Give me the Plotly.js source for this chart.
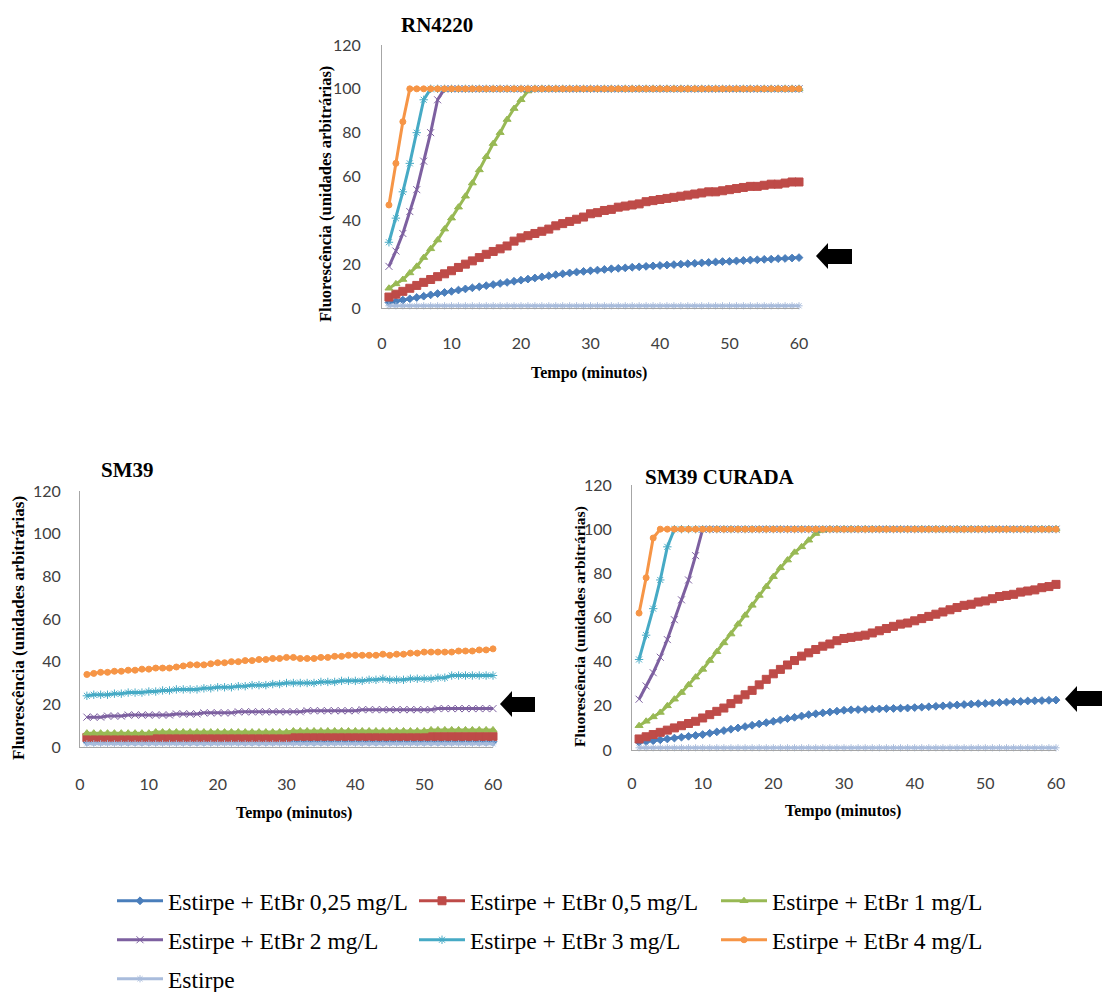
<!DOCTYPE html>
<html>
<head>
<meta charset="utf-8">
<script src="https://cdn.plot.ly/plotly-3.0.1.min.js"></script>
<style>html,body{margin:0;padding:0;background:#fff;}#chart{width:1102px;height:992px;}</style>
</head>
<body>
<div id="chart"></div>
<script>
// ---------- DATA ----------
const minutes = [1,2,3,4,5,6,7,8,9,10,11,12,13,14,15,16,17,18,19,20,21,22,23,24,25,26,27,28,29,30,
                 31,32,33,34,35,36,37,38,39,40,41,42,43,44,45,46,47,48,49,50,51,52,53,54,55,56,57,58,59,60];

const seriesNames = ["Estirpe + EtBr 0,25 mg/L","Estirpe + EtBr 0,5 mg/L","Estirpe + EtBr 1 mg/L",
                     "Estirpe + EtBr 2 mg/L","Estirpe + EtBr 3 mg/L","Estirpe + EtBr 4 mg/L","Estirpe"];

const chartTitles = ["RN4220","SM39","SM39 CURADA"];
const xTitle = "Tempo (minutos)";
const yTitle = "Fluorescência (unidades arbitrárias)";

// RN4220
const rnBlue = [2.5,3,3.6,4.2,4.8,5.4,6,6.6,7.1,7.6,8.2,8.7,9.2,9.7,10.2,10.7,11.2,11.7,12.2,12.7,
  13.2,13.7,14.2,14.7,15.2,15.6,16,16.4,16.7,17,17.3,17.6,17.9,18.1,18.3,18.6,18.8,19,19.2,19.4,
  19.6,19.8,20,20.2,20.4,20.6,20.8,21,21.2,21.3,21.5,21.7,21.9,22,22.2,22.3,22.5,22.6,22.8,23];
const rnRed = [5,6.3,7.6,9,10.3,11.7,13,14.3,15.6,17,18.5,20,21.5,23,24.5,25.8,27,28.3,30.5,32,
  33,34,35,36,37.5,38.5,39.5,40.5,41.5,43,43.5,44.5,45,46,46.5,47,47.5,48.5,49,49.5,
  50,50.5,51,51.5,52,52.5,53,53,53.5,54,54.5,55,55.5,55.5,56,56.5,56.5,57,57.5,57.5];
const rnGreen = [9,11,13,16,19,23,27,31,36,41,46,51,57,63,69,75,80,86,91,95,
  99,100,100,100,100,100,100,100,100,100,100,100,100,100,100,100,100,100,100,100,
  100,100,100,100,100,100,100,100,100,100,100,100,100,100,100,100,100,100,100,100];
const rnPurple = [19,26,34,44,54,67,80,95,100,100,100,100,100,100,100,100,100,100,100,100,
  100,100,100,100,100,100,100,100,100,100,100,100,100,100,100,100,100,100,100,100,
  100,100,100,100,100,100,100,100,100,100,100,100,100,100,100,100,100,100,100,100];
const rnTeal = [30,41,53,66,80,95,100,100,100,100,100,100,100,100,100,100,100,100,100,100,
  100,100,100,100,100,100,100,100,100,100,100,100,100,100,100,100,100,100,100,100,
  100,100,100,100,100,100,100,100,100,100,100,100,100,100,100,100,100,100,100,100];
const rnOrange = [47,66,85,100,100,100,100,100,100,100,100,100,100,100,100,100,100,100,100,100,
  100,100,100,100,100,100,100,100,100,100,100,100,100,100,100,100,100,100,100,100,
  100,100,100,100,100,100,100,100,100,100,100,100,100,100,100,100,100,100,100,100];
const rnEstirpe = [1,1,1,1,1,1,1,1,1,1,1,1,1,1,1,1,1,1,1,1,1,1,1,1,1,1,1,1,1,1,
  1,1,1,1,1,1,1,1,1,1,1,1,1,1,1,1,1,1,1,1,1,1,1,1,1,1,1,1,1,1];

// SM39
const smBlue = [2.5,2.5,2.5,2.5,2.5,2.5,2.5,2.5,2.5,2.5,2.5,2.5,2.5,2.5,2.5,2.5,2.5,2.5,2.5,2.5,
  2.5,2.5,2.5,2.5,2.5,2.5,2.5,2.5,2.5,2.5,2.5,2.5,2.5,2.5,2.5,2.5,2.5,2.5,2.5,2.5,
  2.5,2.5,2.5,2.5,2.5,2.5,2.5,2.5,2.5,2.5,2.5,2.5,2.5,2.5,2.5,2.5,2.5,2.5,2.5,2.5];
const smRed = [4.5,4.5,4.5,4.5,4.5,4.5,4.5,4.5,4.5,4.5,4.5,4.5,4.5,4.5,4.5,4.5,4.5,4.5,4.5,4.5,
  4.5,4.5,4.5,4.5,4.5,4.5,4.5,4.5,4.5,4.5,5,5,5,5,5,5,5,5,5,5,
  5,5,5,5,5,5,5,5,5,5,5,5,5,5,5,5,5,5,5,5];
const smGreen = [6.5,6.5,6.5,6.5,6.5,6.5,6.5,6.5,6.5,6.5,7,7,7,7,7,7,7,7,7,7,
  7,7,7,7,7,7,7,7,7,7,7.5,7.5,7.5,7.5,7.5,7.5,7.5,7.5,7.5,7.5,
  7.5,7.5,7.5,7.5,7.5,7.5,7.5,7.5,7.5,7.5,8,8,8,8,8,8,8,8,8,8];
const smPurple = [14,14,14,14.5,14.5,14.5,15,15,15,15,15,15,15,15.5,15.5,15.5,15.5,16,16,16,
  16,16,16.5,16.5,16.5,16.5,16.5,16.5,16.5,16.5,16.5,16.5,17,17,17,17,17,17,17,17,
  17.5,17.5,17.5,17.5,17.5,17.5,17.5,17.5,17.5,17.5,17.5,18,18,18,18,18,18,18,18,18];
const smTeal = [24,24.5,24.5,24.5,25,25,25.5,25.5,25.5,26,26,26.5,26.5,27,27,27,27,27.5,27.5,28,
  28,28,28.5,28.5,29,29,29,29.5,29.5,30,30,30,30,30,30.5,30.5,30.5,31,31,31,
  31,31.5,31.5,32,31.5,31.5,31.5,32,32,32,32,32.5,32.5,33.5,33.5,33.5,33.5,33.5,33.5,33.5];
const smOrange = [34,34.5,35,35,35.5,35.5,36,36,36.5,36.5,37,37,37,37.5,38,38.5,38.5,38.5,39,39.5,
  39.5,40,40,40.5,40.5,41,41,41.5,41.5,42,42,41.5,41.5,41.5,42,42,42.5,42.5,43,43,
  43,43,43,43.5,43,43.5,43.5,44,44,44.5,44.5,44.5,44.5,44.5,45,45,45,45.5,45.5,46];
const smEstirpe = [1.5,1.5,1.5,1.5,1.5,1.5,1.5,1.5,1.5,1.5,1.5,1.5,1.5,1.5,1.5,1.5,1.5,1.5,1.5,1.5,
  1.5,1.5,1.5,1.5,1.5,1.5,1.5,1.5,1.5,1.5,1.5,1.5,1.5,1.5,1.5,1.5,1.5,1.5,1.5,1.5,
  1.5,1.5,1.5,1.5,1.5,1.5,1.5,1.5,1.5,1.5,1.5,1.5,1.5,1.5,1.5,1.5,1.5,1.5,1.5,1.5];

// SM39 CURADA
const cuBlue = [3.5,3.8,4.2,4.6,5,5.4,5.8,6.2,6.6,7,7.6,8.2,8.8,9.4,10,10.6,11.2,11.8,12.4,13,
  13.6,14.2,14.8,15.4,16,16.4,16.8,17.2,17.6,18,18.2,18.3,18.4,18.5,18.6,18.7,18.8,18.9,19,19.2,
  19.4,19.6,19.8,20,20.2,20.4,20.6,20.8,21,21.1,21.3,21.5,21.7,21.9,22,22.2,22.3,22.4,22.5,22.6];
const cuRed = [5,6,7,8,9,10,11,12,13,14.5,16,17.5,19,21,23,25,27,29.5,32,34.5,
  36.5,38.5,40.5,42.5,44,45.5,47,48,49.5,50.5,51,51.5,52,53,54,55,56,57,57.5,58.5,
  59.5,60.5,61.5,62.5,63.5,64.5,65.5,66,67,67.5,68.5,69.5,70,70.5,71.5,72,72.5,73.5,74,75];
const cuGreen = [11,13,15,17,20,23,26,29.5,33,36.5,40.5,44.5,48.5,52.5,57,61,65.5,70,74,78.5,
  82.5,86,89.5,92,95,98,99.5,100,100,100,100,100,100,100,100,100,100,100,100,100,
  100,100,100,100,100,100,100,100,100,100,100,100,100,100,100,100,100,100,100,100];
const cuPurple = [23,29,35,42,50,59,68,77,88,100,100,100,100,100,100,100,100,100,100,100,
  100,100,100,100,100,100,100,100,100,100,100,100,100,100,100,100,100,100,100,100,
  100,100,100,100,100,100,100,100,100,100,100,100,100,100,100,100,100,100,100,100];
const cuTeal = [41,52,64,77,92,100,100,100,100,100,100,100,100,100,100,100,100,100,100,100,
  100,100,100,100,100,100,100,100,100,100,100,100,100,100,100,100,100,100,100,100,
  100,100,100,100,100,100,100,100,100,100,100,100,100,100,100,100,100,100,100,100];
const cuOrange = [62,78,96,100,100,100,100,100,100,100,100,100,100,100,100,100,100,100,100,100,
  100,100,100,100,100,100,100,100,100,100,100,100,100,100,100,100,100,100,100,100,
  100,100,100,100,100,100,100,100,100,100,100,100,100,100,100,100,100,100,100,100];
const cuEstirpe = [1,1,1,1,1,1,1,1,1,1,1,1,1,1,1,1,1,1,1,1,1,1,1,1,1,1,1,1,1,1,
  1,1,1,1,1,1,1,1,1,1,1,1,1,1,1,1,1,1,1,1,1,1,1,1,1,1,1,1,1,1];

const xTicks = [0,10,20,30,40,50,60];
const yTicks = [0,20,40,60,80,100,120];

// ---------- STYLE ----------
const W = 1102, H = 992;
const px = x => x / W;
const py = y => 1 - y / H;

const colors  = ['#4A7EBB','#BE4B48','#98B954','#7D60A0','#46AAC5','#F69546','#A9BCDC'];
const symbols = ['diamond','square','triangle-up','x-thin-open','asterisk-open','circle','asterisk-open'];
const sizes   = [6,8,7,7,7,6,6];
const legendIds = ['legend','legend','legend','legend2','legend2','legend2','legend3'];

const charts = [
  {sfx:'',  data:[rnBlue,rnRed,rnGreen,rnPurple,rnTeal,rnOrange,rnEstirpe]},
  {sfx:'2', data:[smBlue,smRed,smGreen,smPurple,smTeal,smOrange,smEstirpe]},
  {sfx:'3', data:[cuBlue,cuRed,cuGreen,cuPurple,cuTeal,cuOrange,cuEstirpe]}
];

const traces = [];
charts.forEach((c, ci) => {
  c.data.forEach((ys, i) => {
    traces.push({
      type:'scatter', mode:'lines+markers',
      x: minutes, y: ys,
      xaxis:'x'+c.sfx, yaxis:'y'+c.sfx,
      name: seriesNames[i],
      legend: legendIds[i],
      showlegend: ci === 0,
      line:{color:colors[i], width:3},
      marker:{symbol:symbols[i], size:sizes[i], color:colors[i], line:{color:colors[i], width:1}},
      cliponaxis:false, hoverinfo:'x+y+name'
    });
  });
});

function xa(d0, d1, anchor, standoff){
  return {domain:[px(d0),px(d1)], anchor:anchor, range:[0,60], tickvals:xTicks, ticktext:xTicks.map(String),
    showline:true, linecolor:'#A6A6A6', linewidth:1, showgrid:false, zeroline:false, ticks:'',
    tickfont:{family:'Lato', size:16, color:'#404040'}, ticklabelstandoff:standoff, fixedrange:true};
}
function ya(yb, yt, anchor, standoff){
  return {domain:[py(yb),py(yt)], anchor:anchor, range:[0,120], tickvals:yTicks, ticktext:yTicks.map(String),
    showline:true, linecolor:'#A6A6A6', linewidth:1, showgrid:false, zeroline:false, ticks:'',
    tickfont:{family:'Lato', size:16, color:'#404040'}, ticklabelstandoff:standoff, fixedrange:true};
}

const serifBold = (size) => ({family:'Liberation Serif', size:size, color:'#000', weight:'bold'});

function ann(text, x, y, size, angle){
  return {text:text, xref:'paper', yref:'paper', x:px(x), y:py(y), xanchor:'center', yanchor:'middle',
    showarrow:false, font:serifBold(size), textangle:angle||0};
}

const annotations = [
  ann(chartTitles[0], 437, 25, 21),
  ann(chartTitles[1], 127, 470, 21),
  ann(chartTitles[2], 720, 477, 21),
  ann(yTitle, 325, 194, 16.5, -90),
  ann(yTitle, 18, 628, 17, -90),
  ann(yTitle, 580, 627, 15.5, -90),
  ann(xTitle, 589, 373, 16),
  ann(xTitle, 294, 813, 16),
  ann(xTitle, 843, 811, 16)
];

function arrowPath(tx, ty, hx, hy1, hy2, by1, by2, bx){
  const p = (x,y) => px(x).toFixed(5)+','+py(y).toFixed(5);
  return 'M'+p(tx,ty)+' L'+p(hx,hy1)+' L'+p(hx,by1)+' L'+p(bx,by1)+' L'+p(bx,by2)+' L'+p(hx,by2)+' L'+p(hx,hy2)+' Z';
}
const shapes = [
  {type:'path', xref:'paper', yref:'paper', path:arrowPath(816,256,828,243,269,249,264,852), fillcolor:'#000', line:{width:0}},
  {type:'path', xref:'paper', yref:'paper', path:arrowPath(500,704,512,691,717,697,712,535), fillcolor:'#000', line:{width:0}},
  {type:'path', xref:'paper', yref:'paper', path:arrowPath(1065,699,1077,686,712,691,706,1102), fillcolor:'#000', line:{width:0}}
];

function leg(y){
  return {orientation:'h', x:px(112), xanchor:'left', y:py(y), yanchor:'middle',
    font:{family:'Liberation Serif', size:23.5, color:'#000'}, entrywidth:241, entrywidthmode:'pixels',
    itemwidth:46, bgcolor:'rgba(0,0,0,0)', borderwidth:0, traceorder:'normal'};
}

const layout = {
  width:W, height:H, margin:{l:0,r:0,t:0,b:0,autoexpand:false}, paper_bgcolor:'#fff', plot_bgcolor:'rgba(0,0,0,0)',
  showlegend:true,
  xaxis:  xa(382, 799, 'y', 21),
  yaxis:  ya(308, 45, 'x', 17),
  xaxis2: xa(80, 493, 'y2', 23),
  yaxis2: ya(747, 491, 'x2', 15),
  xaxis3: xa(632, 1056, 'y3', 19),
  yaxis3: ya(750, 485, 'x3', 16),
  legend: leg(901), legend2: leg(940), legend3: leg(979),
  annotations:annotations, shapes:shapes
};

Plotly.newPlot('chart', traces, layout, {displayModeBar:false, staticPlot:false});
</script>
</body>
</html>
